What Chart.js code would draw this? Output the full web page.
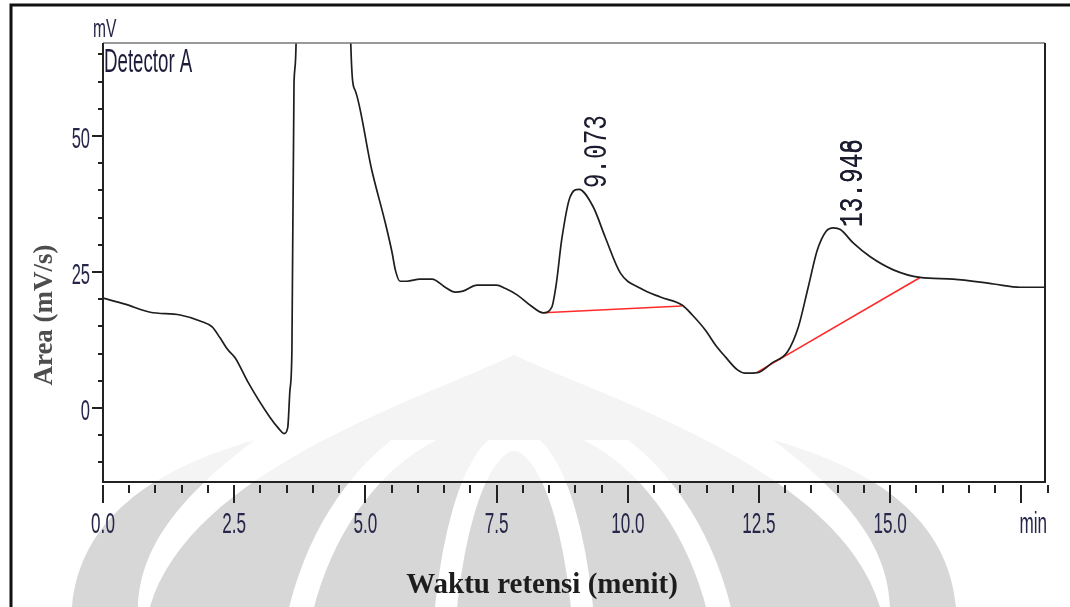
<!DOCTYPE html>
<html>
<head>
<meta charset="utf-8">
<script src="https://cdn.jsdelivr.net/npm/chart.js@4.4.1/dist/chart.umd.min.js"></script>
<style>
  html, body { margin: 0; padding: 0; background: #fff; }
  canvas { display: block; }
</style>
</head>
<body>
<canvas id="chromatogram" width="1070" height="607"></canvas>
<script>
// retention time (min) and detector signal (mV)
const times = [0.00, 0.42, 0.90, 1.47, 1.85, 2.08, 2.23, 2.38, 2.52, 2.76, 3.18, 3.35, 3.45, 3.52, 3.56, 3.60,
  3.64, 3.68, 3.72, 4.68, 4.72, 4.80, 5.12, 5.38, 5.51, 5.57, 5.66, 5.79, 6.04, 6.27, 6.52, 6.71, 6.86, 7.13,
  7.50, 7.66, 7.89, 8.14, 8.39, 8.55, 8.64, 8.74, 8.90, 9.07, 9.34, 9.57, 9.86, 10.24, 10.62, 11.04, 11.23,
  11.48, 11.67, 11.86, 12.09, 12.24, 12.47, 12.75, 13.04, 13.25, 13.44, 13.61, 13.78, 13.92, 14.05, 14.30,
  14.62, 15.06, 15.57, 16.20, 16.97, 17.48, 17.96];
const signal = [20.2, 19.1, 17.6, 17.1, 16.0, 14.9, 12.9, 10.7, 9.2, 4.8, -1.7, -3.8, -4.7, -3.6, 3.0, 10.7,
  60.0, 67.5, 160, 160, 67.5, 58.5, 43.8, 34.0, 28.5, 25.4, 23.3, 23.3, 23.7, 23.7, 22.2, 21.3, 21.5, 22.6,
  22.6, 22.0, 20.8, 18.9, 17.5, 18.5, 23.0, 30.9, 38.8, 40.2, 37.0, 31.4, 24.8, 22.0, 20.4, 18.9, 17.1,
  14.3, 11.6, 9.4, 7.0, 6.4, 6.5, 8.3, 10.3, 14.9, 22.3, 29.0, 32.5, 33.1, 32.8, 30.3,
  27.8, 25.4, 24.0, 23.7, 22.8, 22.2, 22.2];

// integration baselines under the two peaks
const base1Times = [8.39, 11.03];
const base1Values = [17.5, 18.75];
const base2Times = [12.47, 15.57];
const base2Values = [6.6, 24.0];

// peak retention labels
const peakTimes = [9.073, 13.948];
const peakValues = [40.2, 33.1];
const peakLabels = ['9.073', '13.948'];
const peakOverprint = ['', '13.946'];

// axes
const xMajorTicks = [0, 2.5, 5, 7.5, 10, 12.5, 15, 17.5];
const xTickLabels = ['0.0', '2.5', '5.0', '7.5', '10.0', '12.5', '15.0', ''];
const yMajorTicks = [0, 25, 50];
const yTickLabels = ['0', '25', '50'];

const toPoints = (xs, ys) => xs.map((x, i) => ({ x: x, y: ys[i] }));

// condensed instrument-style text
function narrowText(ctx, text, x, y, font, sx, align, baseline, color) {
  ctx.save();
  ctx.translate(x, y);
  ctx.scale(sx, 1);
  ctx.font = font;
  ctx.textAlign = align;
  ctx.textBaseline = baseline;
  ctx.fillStyle = color;
  ctx.fillText(text, 0, 0);
  ctx.restore();
}

// faint university watermark behind the page
function drawWatermark(ctx) {
  ctx.save();
  ctx.fillStyle = '#d7d7d7';
  ctx.beginPath();
  ctx.moveTo(150, 607);
  ctx.bezierCurveTo(190, 470, 420, 400, 514, 355);
  ctx.bezierCurveTo(610, 400, 840, 470, 880, 607);
  ctx.closePath();
  ctx.fill();
  // side wings
  ctx.beginPath();
  ctx.moveTo(72, 607);
  ctx.bezierCurveTo(80, 520, 150, 470, 255, 440);
  ctx.bezierCurveTo(175, 500, 140, 550, 138, 607);
  ctx.closePath();
  ctx.fill();
  ctx.beginPath();
  ctx.moveTo(956, 607);
  ctx.bezierCurveTo(948, 520, 878, 470, 773, 440);
  ctx.bezierCurveTo(853, 500, 888, 550, 890, 607);
  ctx.closePath();
  ctx.fill();
  // white rings
  ctx.beginPath();
  ctx.rect(0, 440, 1070, 200);
  ctx.clip();
  ctx.strokeStyle = '#ffffff';
  ctx.lineWidth = 24;
  ctx.beginPath();
  ctx.ellipse(510, 700, 220, 290, 0, 0, Math.PI * 2);
  ctx.stroke();
  ctx.lineWidth = 22;
  ctx.beginPath();
  ctx.ellipse(514, 690, 72, 250, 0, 0, Math.PI * 2);
  ctx.stroke();
  ctx.restore();
}

const framePlugin = {
  id: 'frame',
  beforeDraw(chart) {
    const ctx = chart.ctx;
    const a = chart.chartArea;
    ctx.save();
    ctx.fillStyle = '#ffffff';
    ctx.fillRect(0, 0, chart.width, chart.height);
    drawWatermark(ctx);
    ctx.fillStyle = 'rgba(255,255,255,0.72)';
    ctx.fillRect(a.left, a.top, a.right - a.left, a.bottom - a.top);
    // page border
    ctx.strokeStyle = '#111';
    ctx.lineWidth = 3;
    ctx.beginPath();
    ctx.moveTo(11, 607);
    ctx.lineTo(11, 5);
    ctx.lineTo(1070, 5);
    ctx.stroke();
    ctx.restore();
  },
  afterDraw(chart) {
    const ctx = chart.ctx;
    const a = chart.chartArea;
    const xs = chart.scales.x;
    const ys = chart.scales.y;
    ctx.save();
    // plot box
    ctx.strokeStyle = '#777';
    ctx.lineWidth = 1.5;
    ctx.beginPath();
    ctx.moveTo(a.left, a.top);
    ctx.lineTo(a.right, a.top);
    ctx.stroke();
    ctx.strokeStyle = '#222';
    ctx.lineWidth = 2;
    ctx.beginPath();
    ctx.moveTo(a.right, a.top);
    ctx.lineTo(a.right, a.bottom);
    ctx.lineTo(a.left, a.bottom);
    ctx.lineTo(a.left, a.top);
    ctx.stroke();

    // x ticks: minor every 0.5 min
    ctx.lineWidth = 2;
    for (let v = 0; v <= 18.001; v += 0.5) {
      const px = Math.round(xs.getPixelForValue(v));
      const major = xMajorTicks.some(t => Math.abs(t - v) < 1e-6);
      ctx.beginPath();
      ctx.moveTo(px, a.bottom + 3);
      ctx.lineTo(px, a.bottom + (major ? 21 : 11));
      ctx.stroke();
    }
    xMajorTicks.forEach((v, i) => {
      if (!xTickLabels[i]) return;
      narrowText(ctx, xTickLabels[i], xs.getPixelForValue(v), a.bottom + 51, '30px "Liberation Sans", Arial, sans-serif', 0.57, 'center', 'alphabetic', '#26264a');
    });
    narrowText(ctx, 'min', a.right + 2, a.bottom + 51, '30px "Liberation Sans", Arial, sans-serif', 0.57, 'right', 'alphabetic', '#26264a');

    // y ticks: minor every 5 mV
    for (let v = -10; v <= 65; v += 5) {
      const py = Math.round(ys.getPixelForValue(v));
      const major = yMajorTicks.indexOf(v) >= 0;
      ctx.beginPath();
      ctx.moveTo(a.left, py);
      ctx.lineTo(a.left - (major ? 11 : 5), py);
      ctx.stroke();
    }
    yMajorTicks.forEach((v, i) => {
      narrowText(ctx, yTickLabels[i], a.left - 13, ys.getPixelForValue(v) + 12, '30px "Liberation Sans", Arial, sans-serif', 0.55, 'right', 'alphabetic', '#26264a');
    });
    narrowText(ctx, 'mV', 93, 37, '26px "Liberation Sans", Arial, sans-serif', 0.6, 'left', 'alphabetic', '#26264a');
    narrowText(ctx, 'Detector A', a.left + 1, a.top + 29, '34px "Liberation Sans", Arial, sans-serif', 0.55, 'left', 'alphabetic', '#1c1c3a');

    // peak retention times, rotated
    peakTimes.forEach((t, i) => {
      const px = xs.getPixelForValue(t) + 18;
      const py = ys.getPixelForValue(peakValues[i]) - 1;
      [peakLabels[i], peakOverprint[i]].forEach(label => {
        if (!label) return;
        ctx.save();
        ctx.translate(px, py);
        ctx.rotate(-Math.PI / 2);
        ctx.scale(0.74, 1);
        ctx.font = '33px "Liberation Mono", "DejaVu Sans Mono", monospace';
        ctx.textAlign = 'left';
        ctx.textBaseline = 'middle';
        ctx.fillStyle = '#1c1c30';
        ctx.fillText(label, 0, 0);
        ctx.restore();
      });
    });

    // axis titles
    ctx.fillStyle = '#1d1d1d';
    ctx.font = 'bold 29px "Liberation Serif", "Times New Roman", serif';
    ctx.textAlign = 'center';
    ctx.textBaseline = 'alphabetic';
    ctx.fillText('Waktu retensi (menit)', 542, 593);
    ctx.save();
    ctx.translate(52, 315);
    ctx.rotate(-Math.PI / 2);
    ctx.fillStyle = '#4d4d4d';
    ctx.font = 'bold 27px "Liberation Serif", "Times New Roman", serif';
    ctx.fillText('Area (mV/s)', 0, 0);
    ctx.restore();
    ctx.restore();
  }
};

new Chart(document.getElementById('chromatogram'), {
  type: 'line',
  data: {
    datasets: [
      {
        label: 'Detector A',
        data: toPoints(times, signal),
        borderColor: '#1e1e1e',
        borderWidth: 1.7,
        pointRadius: 0,
        cubicInterpolationMode: 'monotone',
        fill: false,
      },
      {
        label: 'Baseline 1',
        data: toPoints(base1Times, base1Values),
        borderColor: '#ff2a2a',
        borderWidth: 1.6,
        pointRadius: 0,
        fill: false,
      },
      {
        label: 'Baseline 2',
        data: toPoints(base2Times, base2Values),
        borderColor: '#ff2a2a',
        borderWidth: 1.6,
        pointRadius: 0,
        fill: false,
      },
    ],
  },
  options: {
    responsive: false,
    animation: false,
    devicePixelRatio: 1,
    layout: { padding: { left: 103, top: 43, right: 25, bottom: 125 } },
    plugins: {
      legend: { display: false },
      tooltip: { enabled: false },
    },
    scales: {
      x: { type: 'linear', min: 0, max: 17.95, display: false },
      y: { type: 'linear', min: -13.6, max: 67.1, display: false },
    },
  },
  plugins: [framePlugin],
});
</script>
</body>
</html>
